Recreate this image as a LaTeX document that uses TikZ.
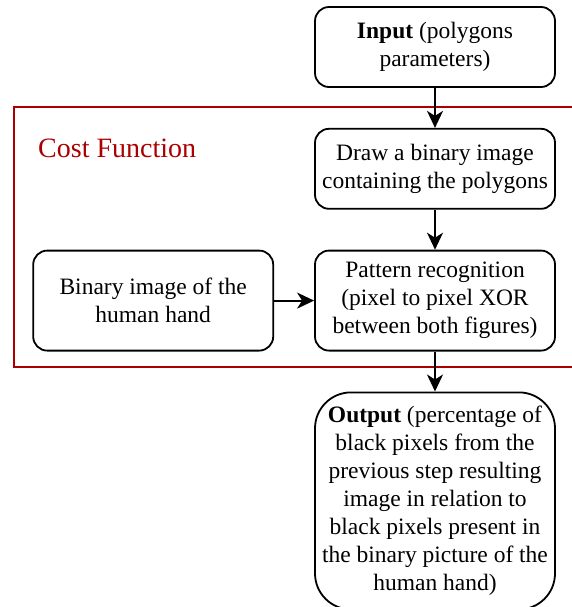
\documentclass[tikz,border=0pt]{standalone}
\usepackage{fontspec}
\setmainfont{Liberation Serif}
\usetikzlibrary{positioning,arrows.meta}
\definecolor{costred}{RGB}{170,0,0}

\begin{document}
\begin{tikzpicture}
  [x=1pt,y=-1pt,node distance=40pt,
   block/.style={rectangle,draw=black,rounded corners=14pt,line width=1.8pt,
                 minimum width=240pt,minimum height=80pt,inner sep=0pt,
                 align=center,font=\fontsize{23.5}{28}\selectfont},
   flow/.style={-{Stealth[length=17pt,width=16pt,inset=5pt]},line width=1.8pt}]
  \useasboundingbox (0,0) rectangle (571,607);
  \draw[costred,line width=1.5pt] (14,107) rectangle (580,367);
  \node[costred,anchor=base west,inner sep=0pt,
        font=\fontsize{28}{32}\selectfont] (costlabel) at (38,157) {Cost Function};
  \node[block]      (input)     at (435,47)     {\textbf{Input} (polygons\\parameters)};
  \node[block]      (drawimg)   [below=of input]
                    {Draw a binary image\\containing the polygons};
  \node[block,minimum height=100pt] (pattern)   [below=of drawimg]
                    {Pattern recognition\\(pixel to pixel XOR\\between both figures)};
  \node[block,minimum height=100pt] (hand)      [left=of pattern]
                    {Binary image of the\\human hand};
  \node[block,minimum height=217pt,rounded corners=36pt] (output) [below=of pattern]
                    {\textbf{Output} (percentage of\\black pixels from the\\previous step resulting\\image in relation to\\black pixels present in\\the binary picture of the\\human hand)};

  \draw [flow] (input) to (drawimg);
  \draw [flow] (drawimg) to (pattern);
  \draw [flow] (hand) to (pattern);
  \draw [flow] (pattern) to (output);
\end{tikzpicture}
\end{document}
